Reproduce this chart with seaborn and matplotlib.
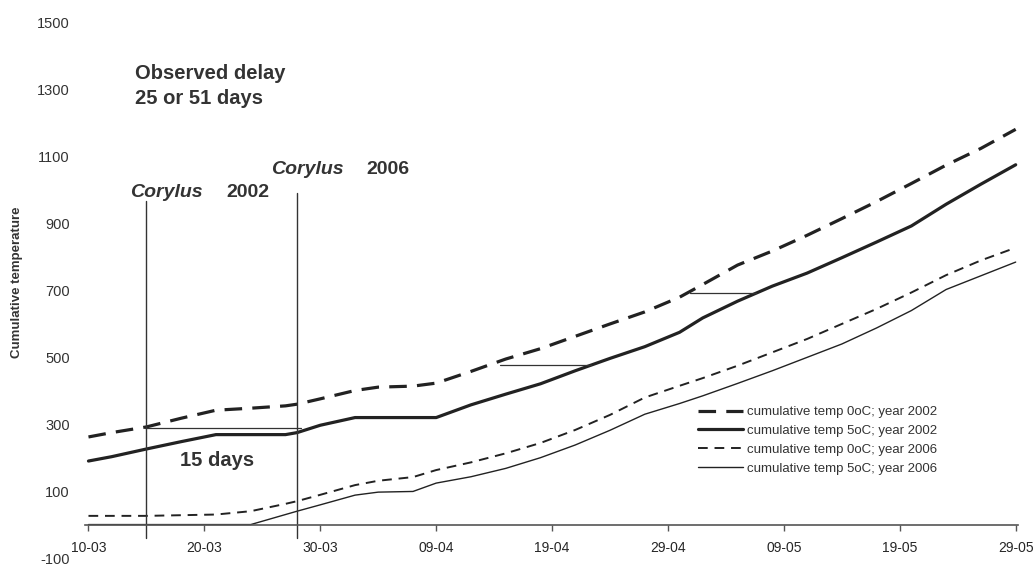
import matplotlib
matplotlib.use("Agg")
import matplotlib.pyplot as plt
import numpy as np
import pandas as pd
import seaborn as sns

# ---------------- data ----------------
dates = ["10-03", "12-03", "15-03", "18-03", "21-03", "24-03", "27-03", "28-03",
         "30-03", "02-04", "04-04", "07-04", "09-04", "12-04", "15-04", "18-04",
         "21-04", "24-04", "27-04", "30-04", "02-05", "05-05", "08-05", "11-05",
         "14-05", "17-05", "20-05", "23-05", "26-05", "29-05"]

temp0_2002 = [262, 275, 292, 318, 342, 348, 355, 360, 376, 401, 411, 414, 423, 458,
              495, 526, 563, 600, 636, 680, 718, 776, 818, 865, 915, 966, 1020,
              1075, 1125, 1182]
temp5_2002 = [190, 203, 226, 248, 269, 269, 269, 275, 297, 320, 320, 320, 320, 358,
              390, 421, 460, 497, 532, 575, 618, 668, 713, 752, 798, 845, 893,
              958, 1018, 1076]
temp0_2006 = [26, 26, 26, 28, 30, 40, 62, 70, 89, 118, 131, 142, 163, 186, 213,
              244, 283, 328, 380, 415, 438, 475, 515, 555, 600, 645, 694, 746,
              790, 828]
temp5_2006 = [0, 0, 0, 0, 0, 0, 30, 40, 59, 88, 97, 99, 124, 143, 168, 200, 238,
              282, 330, 362, 385, 422, 460, 500, 540, 588, 640, 703, 744, 785]

series_labels = ["cumulative temp 0oC; year 2002", "cumulative temp 5oC; year 2002",
                 "cumulative temp 0oC; year 2006", "cumulative temp 5oC; year 2006"]

tick_dates = ["10-03", "20-03", "30-03", "09-04", "19-04", "29-04", "09-05",
              "19-05", "29-05"]
y_ticks = [-100, 100, 300, 500, 700, 900, 1100, 1300, 1500]

# flowering (Corylus) dates and delay markers
flower_dates = ["15-03", "28-03"]
flower_labels = ["2002", "2006"]
delay_start = [4.9, 35.5, 51.9]
delay_end = [18.3, 43.4, 57.6]
delay_level = [290, 478, 692]

# ---------------- helpers ----------------
def to_day(strings):
    dt = pd.to_datetime([s + "-2002" for s in strings], format="%d-%m-%Y")
    return np.array((dt - pd.Timestamp("2002-03-10")).days, dtype=float)

days = to_day(dates)
df = pd.DataFrame({"day": days,
                   series_labels[0]: temp0_2002,
                   series_labels[1]: temp5_2002,
                   series_labels[2]: temp0_2006,
                   series_labels[3]: temp5_2006})

sns.set_style("white")
plt.rcParams["font.family"] = ["Liberation Sans", "DejaVu Sans"]

W, H = 1033, 566
fig = plt.figure(figsize=(W / 100, H / 100), dpi=100)
ax_top, ax_bot = 23, 558
ax = fig.add_axes([85 / W, 1 - ax_bot / H, (1018 - 85) / W, (ax_bot - ax_top) / H])

ink = "#222222"
styles = [
    dict(lw=2.3, dashes=(5.5, 3.2)),
    dict(lw=2.3, dashes=None),
    dict(lw=1.4, dashes=(5.0, 3.5)),
    dict(lw=1.0, dashes=None),
]
handles = []
for lab, st in zip(series_labels, styles):
    sns.lineplot(data=df, x="day", y=lab, ax=ax, color=ink, linewidth=st["lw"],
                 legend=False)
    line = ax.lines[-1]
    if st["dashes"] is not None:
        line.set_dashes(st["dashes"])
    line.set_label(lab)
    handles.append(line)

# Corylus vertical lines
fdays = to_day(flower_dates)
tops = [968, 992]
for d, t in zip(fdays, tops):
    ax.plot([d, d], [-40, t], color="#333333", lw=1.0, clip_on=False)

# delay horizontal lines
for s, e, lvl in zip(delay_start, delay_end, delay_level):
    ax.plot([s, e], [lvl, lvl], color="#333333", lw=0.9)

# texts
txt = "#333333"
ax.text(4.05, 1350, "Observed delay", fontsize=14.5, fontweight="bold", color=txt,
        ha="left", va="center")
ax.text(4.05, 1275, "25 or 51 days", fontsize=14.5, fontweight="bold", color=txt,
        ha="left", va="center")
ax.text(3.6, 993, "Corylus", fontsize=14, fontweight="bold", fontstyle="italic",
        color=txt, ha="left", va="center")
ax.text(11.9, 993, flower_labels[0], fontsize=14, fontweight="bold", color=txt,
        ha="left", va="center")
ax.text(15.75, 1061, "Corylus", fontsize=14, fontweight="bold", fontstyle="italic",
        color=txt, ha="left", va="center")
ax.text(24.0, 1061, flower_labels[1], fontsize=14, fontweight="bold", color=txt,
        ha="left", va="center")
ax.text(11.1, 193, "15 days", fontsize=14.5, fontweight="bold", color=txt,
        ha="center", va="center")

# axes formatting
ax.set_xlim(-0.3, 80.2)
ax.set_ylim(-100, 1500)
ax.set_xticks(to_day(tick_dates))
ax.set_xticklabels(tick_dates, fontsize=7.5, fontweight="bold", color=txt)
ax.set_yticks(y_ticks)
ax.set_yticklabels([str(v) for v in y_ticks], fontsize=10.5, color=txt)
ax.tick_params(axis="x", direction="out", length=4, width=1.0, color="#555555", pad=8,
               bottom=True)
ax.tick_params(axis="y", length=0, pad=11)
for sp in ["top", "right", "left"]:
    ax.spines[sp].set_visible(False)
ax.spines["bottom"].set_position(("data", 0))
ax.spines["bottom"].set_color("#555555")
ax.spines["bottom"].set_linewidth(1.2)
ax.set_xlabel("")
ax.set_ylabel("Cumulative temperature", fontsize=9.5, fontweight="bold", color=txt)
ax.yaxis.set_label_coords(-(85 - 23) / (1018 - 85), (ax_bot - 282) / (ax_bot - ax_top))
ax.grid(False)

leg = ax.legend(handles=handles, labels=series_labels, loc="upper left",
                bbox_to_anchor=(698 / W, 1 - 406 / H), bbox_transform=fig.transFigure,
                frameon=False, fontsize=9.5, handlelength=3.4, handletextpad=0.3,
                labelspacing=0.5, borderpad=0, borderaxespad=0)
for t in leg.get_texts():
    t.set_color(txt)

fig.savefig("out.png", dpi=100)
